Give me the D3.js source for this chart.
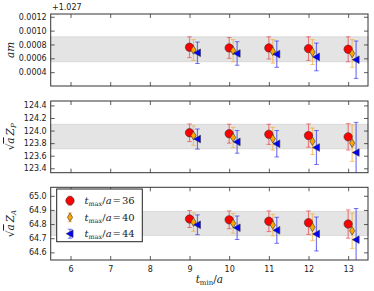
<!DOCTYPE html>
<html><head><meta charset="utf-8">
<script src="https://cdn.jsdelivr.net/npm/d3@7"></script>
<style>body{margin:0;background:#fff}svg{display:block}</style>
</head><body>
<svg id="c" width="374" height="291"></svg>
<script>
const tmin = [9, 10, 11, 12, 13];
const xTicks = [6, 7, 8, 9, 10, 11, 12, 13];
const seriesLabels = ["36", "40", "44"];
// panel 1: am - 1.027
const am36 = [0.00076, 0.00075, 0.00075, 0.00074, 0.00073];
const am36e = [0.00015, 0.00015, 0.00016, 0.00017, 0.00018];
const am40 = [0.00072, 0.00071, 0.00070, 0.00069, 0.00067];
const am40e = [0.00015, 0.00016, 0.00017, 0.00018, 0.00020];
const am44 = [0.00068, 0.00067, 0.00066, 0.00062, 0.00058];
const am44e = [0.000155, 0.00017, 0.00019, 0.00020, 0.00027];
const amTicks = [0.0004, 0.0006, 0.0008, 0.0010, 0.0012];
const amBand = [0.00055, 0.00091];
// panel 2: sqrt(a) Z_P
const zp36 = [123.965, 123.95, 123.94, 123.92, 123.90];
const zp36e = [0.14, 0.15, 0.16, 0.185, 0.21];
const zp40 = [123.92, 123.89, 123.87, 123.83, 123.80];
const zp40e = [0.155, 0.16, 0.18, 0.21, 0.29];
const zp44 = [123.865, 123.82, 123.79, 123.73, 123.65];
const zp44e = [0.16, 0.18, 0.21, 0.27, 0.48];
const zpTicks = [123.4, 123.6, 123.8, 124.0, 124.2, 124.4];
const zpBand = [123.71, 124.10];
// panel 3: sqrt(a) Z_A
const za36 = [64.836, 64.83, 64.82, 64.81, 64.80];
const za36e = [0.06, 0.063, 0.073, 0.083, 0.10];
const za40 = [64.814, 64.805, 64.793, 64.777, 64.753];
const za40e = [0.065, 0.07, 0.076, 0.095, 0.125];
const za44 = [64.795, 64.774, 64.756, 64.73, 64.69];
const za44e = [0.07, 0.083, 0.092, 0.12, 0.22];
const zaTicks = [64.6, 64.7, 64.8, 64.9, 65.0];
const zaBand = [64.72, 64.89];

const svg = d3.select("#c");
const L = 50.7, R = 368;
const x = d3.scaleLinear().domain([5.5, 13.5]).range([L, R]);
const colors = ["#ff0000", "#ffa500", "#0000ff"];
const barColors = ["rgba(230,40,40,0.55)", "rgba(245,165,30,0.6)", "rgba(30,30,240,0.6)"];
const offs = [0, 0.1, 0.2];

const panels = [
  {top:14, bot:86, dom:[0.0002, 0.00124], ticks:amTicks, fmt:d3.format(".4f"), band:amBand,
   data:[[am36,am36e],[am40,am40e],[am44,am44e]], label:"am"},
  {top:101, bot:172.7, dom:[123.33, 124.47], ticks:zpTicks, fmt:d3.format(".1f"), band:zpBand,
   data:[[zp36,zp36e],[zp40,zp40e],[zp44,zp44e]], label:"P"},
  {top:187.3, bot:260, dom:[64.546, 65.06], ticks:zaTicks, fmt:d3.format(".1f"), band:zaBand,
   data:[[za36,za36e],[za40,za40e],[za44,za44e]], label:"A"}
];

function marker(g, k, cx, cy, s) {
  if (k === 0) {
    g.append("circle").attr("cx", cx).attr("cy", cy).attr("r", 4.2*s)
      .attr("fill", colors[0]).attr("stroke", "#333").attr("stroke-width", 0.6);
  } else if (k === 1) {
    const w = 2.6*s, h = 4.3*s;
    g.append("path").attr("d", `M${cx},${cy-h}L${cx+w},${cy}L${cx},${cy+h}L${cx-w},${cy}Z`)
      .attr("fill", colors[1]).attr("stroke", "#333").attr("stroke-width", 0.6);
  } else {
    const w = 3.8*s;
    g.append("path").attr("d", `M${cx-w},${cy}L${cx+w*0.8},${cy-w}L${cx+w*0.8},${cy+w}Z`)
      .attr("fill", colors[2]).attr("stroke", "#333").attr("stroke-width", 0.6);
  }
}
function errbar(g, k, cx, y1, y2) {
  const c = barColors[k];
  g.append("line").attr("x1", cx).attr("x2", cx).attr("y1", y1).attr("y2", y2)
    .attr("stroke", c).attr("stroke-width", 1.2);
  [y1, y2].forEach(yy => g.append("line").attr("x1", cx-2.3).attr("x2", cx+2.3)
    .attr("y1", yy).attr("y2", yy).attr("stroke", c).attr("stroke-width", 1));
}

panels.forEach((p, pi) => {
  const y = d3.scaleLinear().domain(p.dom).range([p.bot, p.top]);
  const g = svg.append("g");
  const clipId = "clip" + pi;
  svg.append("clipPath").attr("id", clipId).append("rect")
    .attr("x", L).attr("y", p.top).attr("width", R-L).attr("height", p.bot-p.top);
  // band
  g.append("rect").attr("x", L).attr("width", R-L)
    .attr("y", y(p.band[1])).attr("height", y(p.band[0]) - y(p.band[1]))
    .attr("fill", "#e4e4e4").attr("stroke", "#d4d4d4").attr("stroke-width", 0.8);
  // axes (inward ticks)
  const gl = svg.append("g").attr("transform", `translate(${L},0)`)
    .call(d3.axisLeft(y).tickValues(p.ticks).tickFormat(p.fmt).tickSizeInner(-4).tickSizeOuter(0).tickPadding(4));
  const gr = svg.append("g").attr("transform", `translate(${R},0)`)
    .call(d3.axisRight(y).tickValues(p.ticks).tickFormat("").tickSizeInner(-4).tickSizeOuter(0));
  const gb = svg.append("g").attr("transform", `translate(0,${p.bot})`)
    .call(d3.axisBottom(x).tickValues(xTicks).tickFormat(pi === 2 ? d3.format("d") : "").tickSizeInner(-4).tickSizeOuter(0).tickPadding(6));
  const gt = svg.append("g").attr("transform", `translate(0,${p.top})`)
    .call(d3.axisTop(x).tickValues(xTicks).tickFormat("").tickSizeInner(-4).tickSizeOuter(0));
  [gl, gr, gb, gt].forEach(a => {
    a.select(".domain").remove();
    a.selectAll("line").attr("stroke", "#333").attr("stroke-width", 0.8);
    a.selectAll("text").attr("font-family", "DejaVu Sans").attr("font-size", 8).attr("fill", "#222");
  });
  // data
  const dg = svg.append("g").attr("clip-path", `url(#${clipId})`);
  p.data.forEach(([vals, errs], k) => {
    vals.forEach((v, i) => {
      const cx = x(tmin[i] + offs[k]);
      errbar(dg, k, cx, y(v + errs[i]), y(v - errs[i]));
    });
  });
  p.data.forEach(([vals, errs], k) => {
    vals.forEach((v, i) => marker(dg, k, x(tmin[i] + offs[k]), y(v), 1));
  });
  // frame
  svg.append("rect").attr("x", L).attr("y", p.top).attr("width", R-L).attr("height", p.bot-p.top)
    .attr("fill", "none").attr("stroke", "#333").attr("stroke-width", 1);
  // y label
  const cy = (p.top + p.bot) / 2;
  const t = svg.append("text").attr("transform", `translate(14,${cy}) rotate(-90)`)
    .attr("text-anchor", "middle").attr("font-family", "DejaVu Serif").attr("font-size", 10.5).attr("fill", "#222");
  if (p.label === "am") {
    t.append("tspan").attr("font-style", "italic").text("am");
  } else {
    t.append("tspan").text("\u221A");
    t.append("tspan").attr("font-style", "italic").attr("text-decoration", "overline").text("a");
    t.append("tspan").attr("font-style", "italic").attr("dx", 2).text("Z");
    t.append("tspan").attr("font-style", "italic").attr("font-size", 7).attr("dy", 2).text(p.label);
  }
});

// offset text
svg.append("text").attr("x", 52).attr("y", 10).attr("font-family", "DejaVu Sans").attr("font-size", 8)
  .attr("fill", "#222").text("+1.027");

// x label
const xl = svg.append("text").attr("x", (L + R) / 2).attr("y", 283).attr("text-anchor", "middle")
  .attr("font-family", "DejaVu Serif").attr("font-size", 10.5).attr("fill", "#222");
xl.append("tspan").attr("font-style", "italic").text("t");
xl.append("tspan").attr("font-size", 7).attr("dy", 2).text("min");
xl.append("tspan").attr("dy", -2).text("/");
xl.append("tspan").attr("font-style", "italic").text("a");

// legend
const lg = svg.append("g");
lg.append("rect").attr("x", 56.7).attr("y", 189).attr("width", 85.6).attr("height", 52.7)
  .attr("fill", "#fff").attr("stroke", "#222").attr("stroke-width", 1);
const ly = [200.7, 217.3, 233.7];
seriesLabels.forEach((lab, k) => {
  errbar(lg, k, 70, ly[k] - 4.5, ly[k] + 4.5);
  marker(lg, k, 70, ly[k], 1);
  const tx = lg.append("text").attr("x", 84.5).attr("y", ly[k] + 3.5).attr("font-family", "DejaVu Serif")
    .attr("font-size", 10).attr("fill", "#222");
  tx.append("tspan").attr("font-style", "italic").text("t");
  tx.append("tspan").attr("font-size", 6.5).attr("dy", 2).text("max");
  tx.append("tspan").attr("dy", -2).text("/");
  tx.append("tspan").attr("font-style", "italic").text("a");
  tx.append("tspan").attr("dx", 1).text("=");
  tx.append("tspan").attr("dx", 1).text(lab);
});
</script>
</body></html>
